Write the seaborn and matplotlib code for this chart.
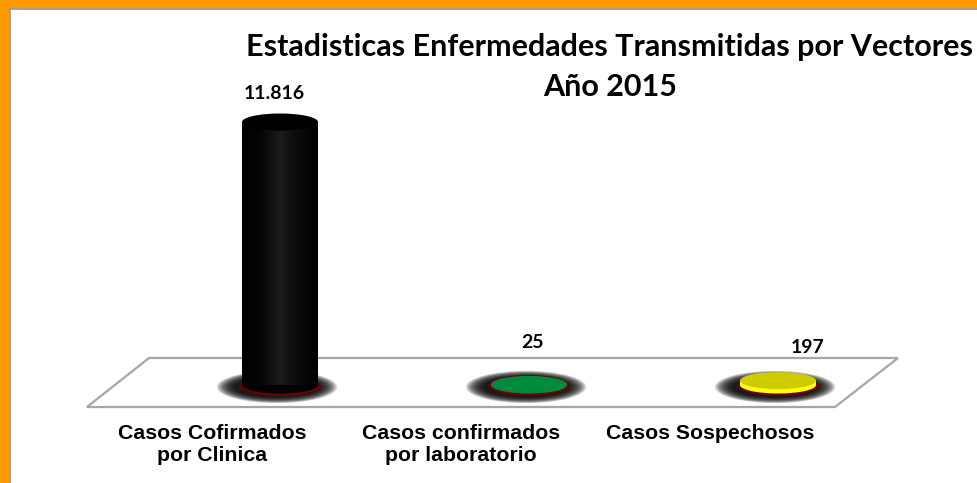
import matplotlib
matplotlib.use("Agg")
import matplotlib.pyplot as plt
from matplotlib.patches import Ellipse, Polygon, Rectangle
from matplotlib.colors import LinearSegmentedColormap
from matplotlib.lines import Line2D
import seaborn as sns
import numpy as np
import pandas as pd

# data
categories = ["Casos Cofirmados\npor Clinica", "Casos confirmados\npor laboratorio", "Casos Sospechosos"]
cases = [11816, 25, 197]
side_colors = ["#000000", "#008A3E", "#FFFF10"]
top_colors = ["#000000", "#008A3E", "#CFCB00"]
title_lines = ["Estadisticas Enfermedades Transmitidas por Vectores", "Año 2015"]

df = pd.DataFrame({"categoria": categories, "casos": cases})

sns.set_style("white")
W, H = 977, 483
fig = plt.figure(figsize=(W / 100, H / 100), dpi=100)
fig.patch.set_facecolor("white")
ax = fig.add_axes([0, 76 / H, 1, 407 / H])

# scale helpers (pixels -> data units)
px_x = 1 / 249
px_y = 11816 / 263

bar_w = 76 * px_x
sns.barplot(data=df, x="categoria", y="casos", hue="categoria", palette=side_colors,
            width=bar_w, saturation=1, legend=False, ax=ax, zorder=5, linewidth=0)
bars = list(ax.patches)

ell_h = 17 * px_y
shade = LinearSegmentedColormap.from_list("shade", ["#000000", "#050505", "#1c1c1c", "#0a0a0a", "#000000"])

for i, bar in enumerate(bars):
    cx = bar.get_x() + bar.get_width() / 2
    top = bar.get_height()
    w = bar.get_width()
    # soft shadow on the floor
    n = 12
    for k in range(n):
        f = 1 - k / n
        ax.add_patch(Ellipse((cx - 3 * px_x, -2 * px_y), w * (1.08 + 0.5 * f), ell_h * (1.15 + 0.75 * f),
                             color="black", alpha=0.17, lw=0, zorder=2))
    # dark red rim
    ax.add_patch(Ellipse((cx, -0.5 * px_y), w * 1.07, ell_h * 1.22, color="#6e0000", lw=0, zorder=3))
    ax.add_patch(Ellipse((cx, 0), w, ell_h, color=side_colors[i], lw=0, zorder=4))
    if top > ell_h:
        grad = np.linspace(0, 1, 200).reshape(1, -1)
        im = ax.imshow(grad, cmap=shade, extent=[bar.get_x(), bar.get_x() + w, 0, top],
                       aspect="auto", zorder=5.5)
        im.set_clip_path(bar)
    ax.add_patch(Ellipse((cx, top), w, ell_h, color=top_colors[i], lw=0, zorder=6))

# data labels
offsets = [(-6, 29), (3, 42), (30, 33)]
for i, bar in enumerate(bars):
    cx = bar.get_x() + bar.get_width() / 2
    label = f"{cases[i]:,}".replace(",", ".")
    ax.annotate(label, (cx, bar.get_height()), xytext=offsets[i], textcoords="offset pixels",
                ha="center", va="center", fontsize=14, fontweight="bold",
                family=["Lato", "DejaVu Sans"], color="black", zorder=8)

# floor
floor_px = [(149, 358), (898, 358), (835, 407), (87, 407)]
floor = [((x - 280) * px_x, (385 - y) * px_y) for x, y in floor_px]
ax.add_patch(Polygon(floor, closed=True, facecolor="white", edgecolor="#a6a6a6",
                     lw=1.6, zorder=1, clip_on=False))

ax.set_xlim(-280 * px_x, (W - 280) * px_x)
ax.set_ylim((385 - 407) * px_y, 385 * px_y)

ax.set_xticks([i - 68 * px_x for i in range(len(categories))])
ax.set_xticklabels(categories, fontsize=15.3, fontweight="bold", color="black",
                   family=["Liberation Sans", "DejaVu Sans"])
ax.tick_params(axis="x", length=0, pad=12)
ax.set_yticks([])
ax.set_xlabel("")
ax.set_ylabel("")
sns.despine(ax=ax, left=True, bottom=True)
ax.set_facecolor("none")

# title
fig.text(610 / W, 1 - 47 / H, title_lines[0], ha="center", va="center", fontsize=22,
         fontweight="bold", color="black", family=["Lato", "DejaVu Sans"])
fig.text(610 / W, 1 - 87 / H, title_lines[1], ha="center", va="center", fontsize=22,
         fontweight="bold", color="black", family=["Lato", "DejaVu Sans"])

# orange frame on the left and top edges
fig.patches.append(Rectangle((0, 0), 9 / W, 1, transform=fig.transFigure, color="#FF9A00", zorder=0))
fig.patches.append(Rectangle((0, 1 - 8 / H), 1, 8 / H, transform=fig.transFigure, color="#FF9A00", zorder=0))
fig.lines.append(Line2D([9.5 / W, 9.5 / W], [0, 1 - 8 / H], transform=fig.transFigure, color="#9a9a9a", lw=1.2))
fig.lines.append(Line2D([9 / W, 1], [1 - 8.5 / H, 1 - 8.5 / H], transform=fig.transFigure, color="#9a9a9a", lw=1.2))

fig.savefig("out.png", dpi=100)
